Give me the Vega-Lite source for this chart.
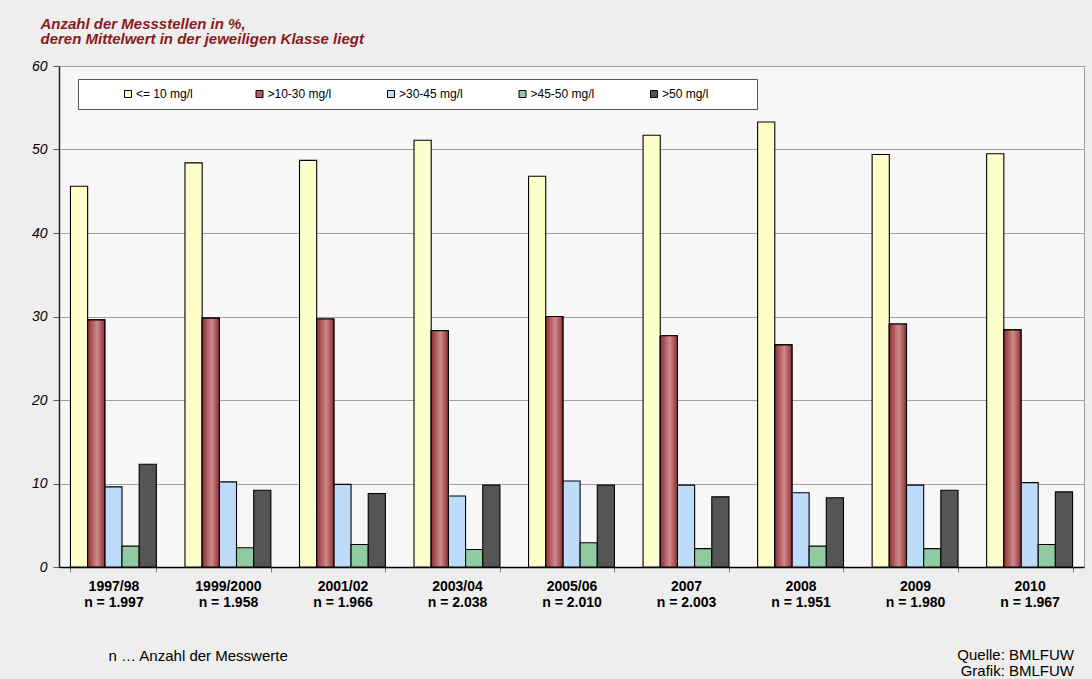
{
  "$schema": "https://vega.github.io/schema/vega-lite/v6.json",
  "width": 1025,
  "height": 501,
  "autosize": "none",
  "padding": {"left": 59, "top": 66, "right": 8, "bottom": 112},
  "background": "#eeeeee",
  "config": {
    "font": "Liberation Sans",
    "view": {"fill": "#f7f7f7", "stroke": "#a0a0a0"}
  },
  "title": {
    "text": ["Quelle: BMLFUW", "Grafik: BMLFUW"],
    "orient": "bottom",
    "anchor": "end",
    "fontSize": 15,
    "fontWeight": "normal",
    "color": "black",
    "lineHeight": 16,
    "dx": -10,
    "dy": -15,
    "offset": 0
  },
  "data": {
    "values": [
      {"period": "1997/98", "n": "1.997", "klasse": "<= 10 mg/l", "wert": 45.6},
      {"period": "1997/98", "n": "1.997", "klasse": ">10-30 mg/l", "wert": 29.6},
      {"period": "1997/98", "n": "1.997", "klasse": ">30-45 mg/l", "wert": 9.6},
      {"period": "1997/98", "n": "1.997", "klasse": ">45-50 mg/l", "wert": 2.5},
      {"period": "1997/98", "n": "1.997", "klasse": ">50 mg/l", "wert": 12.3},
      {"period": "1999/2000", "n": "1.958", "klasse": "<= 10 mg/l", "wert": 48.4},
      {"period": "1999/2000", "n": "1.958", "klasse": ">10-30 mg/l", "wert": 29.8},
      {"period": "1999/2000", "n": "1.958", "klasse": ">30-45 mg/l", "wert": 10.2},
      {"period": "1999/2000", "n": "1.958", "klasse": ">45-50 mg/l", "wert": 2.3},
      {"period": "1999/2000", "n": "1.958", "klasse": ">50 mg/l", "wert": 9.2},
      {"period": "2001/02", "n": "1.966", "klasse": "<= 10 mg/l", "wert": 48.7},
      {"period": "2001/02", "n": "1.966", "klasse": ">10-30 mg/l", "wert": 29.7},
      {"period": "2001/02", "n": "1.966", "klasse": ">30-45 mg/l", "wert": 9.9},
      {"period": "2001/02", "n": "1.966", "klasse": ">45-50 mg/l", "wert": 2.7},
      {"period": "2001/02", "n": "1.966", "klasse": ">50 mg/l", "wert": 8.8},
      {"period": "2003/04", "n": "2.038", "klasse": "<= 10 mg/l", "wert": 51.1},
      {"period": "2003/04", "n": "2.038", "klasse": ">10-30 mg/l", "wert": 28.3},
      {"period": "2003/04", "n": "2.038", "klasse": ">30-45 mg/l", "wert": 8.5},
      {"period": "2003/04", "n": "2.038", "klasse": ">45-50 mg/l", "wert": 2.1},
      {"period": "2003/04", "n": "2.038", "klasse": ">50 mg/l", "wert": 9.8},
      {"period": "2005/06", "n": "2.010", "klasse": "<= 10 mg/l", "wert": 46.8},
      {"period": "2005/06", "n": "2.010", "klasse": ">10-30 mg/l", "wert": 30.0},
      {"period": "2005/06", "n": "2.010", "klasse": ">30-45 mg/l", "wert": 10.3},
      {"period": "2005/06", "n": "2.010", "klasse": ">45-50 mg/l", "wert": 2.9},
      {"period": "2005/06", "n": "2.010", "klasse": ">50 mg/l", "wert": 9.8},
      {"period": "2007", "n": "2.003", "klasse": "<= 10 mg/l", "wert": 51.7},
      {"period": "2007", "n": "2.003", "klasse": ">10-30 mg/l", "wert": 27.7},
      {"period": "2007", "n": "2.003", "klasse": ">30-45 mg/l", "wert": 9.8},
      {"period": "2007", "n": "2.003", "klasse": ">45-50 mg/l", "wert": 2.2},
      {"period": "2007", "n": "2.003", "klasse": ">50 mg/l", "wert": 8.4},
      {"period": "2008", "n": "1.951", "klasse": "<= 10 mg/l", "wert": 53.3},
      {"period": "2008", "n": "1.951", "klasse": ">10-30 mg/l", "wert": 26.6},
      {"period": "2008", "n": "1.951", "klasse": ">30-45 mg/l", "wert": 8.9},
      {"period": "2008", "n": "1.951", "klasse": ">45-50 mg/l", "wert": 2.5},
      {"period": "2008", "n": "1.951", "klasse": ">50 mg/l", "wert": 8.3},
      {"period": "2009", "n": "1.980", "klasse": "<= 10 mg/l", "wert": 49.4},
      {"period": "2009", "n": "1.980", "klasse": ">10-30 mg/l", "wert": 29.1},
      {"period": "2009", "n": "1.980", "klasse": ">30-45 mg/l", "wert": 9.8},
      {"period": "2009", "n": "1.980", "klasse": ">45-50 mg/l", "wert": 2.2},
      {"period": "2009", "n": "1.980", "klasse": ">50 mg/l", "wert": 9.2},
      {"period": "2010", "n": "1.967", "klasse": "<= 10 mg/l", "wert": 49.5},
      {"period": "2010", "n": "1.967", "klasse": ">10-30 mg/l", "wert": 28.4},
      {"period": "2010", "n": "1.967", "klasse": ">30-45 mg/l", "wert": 10.1},
      {"period": "2010", "n": "1.967", "klasse": ">45-50 mg/l", "wert": 2.7},
      {"period": "2010", "n": "1.967", "klasse": ">50 mg/l", "wert": 9.0}
    ]
  },
  "transform": [{"calculate": "datum.period + '|n = ' + datum.n", "as": "label"}],
  "encoding": {
    "x": {
      "field": "label",
      "type": "nominal",
      "sort": null,
      "scale": {"paddingInner": 0.25, "paddingOuter": 0.1},
      "axis": {
        "labelExpr": "isValid(datum.value) ? split(datum.value, '|') : ''",
        "labelAngle": 0,
        "labelFontWeight": "bold",
        "labelFontSize": 14,
        "labelColor": "black",
        "labelPadding": 7,
        "labelLineHeight": 16,
        "domainColor": "black",
        "domainWidth": 1.5,
        "tickBand": "extent",
        "tickColor": "#777777",
        "tickSize": 5,
        "title": "n … Anzahl der Messwerte",
        "titleFontWeight": "normal",
        "titleFontSize": 15,
        "titleColor": "black",
        "titleAlign": "left",
        "titleBaseline": "middle",
        "titleX": 49,
        "titleY": 88
      }
    },
    "xOffset": {
      "field": "klasse",
      "type": "nominal",
      "scale": {"domain": ["<= 10 mg/l", ">10-30 mg/l", ">30-45 mg/l", ">45-50 mg/l", ">50 mg/l"], "paddingInner": 0}
    },
    "y": {
      "field": "wert",
      "type": "quantitative",
      "scale": {"domain": [0, 60]},
      "axis": {
        "values": [0, 10, 20, 30, 40, 50, 60],
        "labelFontStyle": "italic",
        "labelFontSize": 14,
        "labelColor": "black",
        "labelPadding": 6,
        "tickSize": 6,
        "tickColor": "#555555",
        "grid": true,
        "gridColor": "#a0a0a0",
        "domainColor": "#222222",
        "domainWidth": 1.5,
        "title": ["Anzahl der Messstellen in %,", "deren Mittelwert in der jeweiligen Klasse liegt"],
        "titleAngle": 0,
        "titleAlign": "left",
        "titleBaseline": "alphabetic",
        "titleX": -19,
        "titleY": -38,
        "titleFontSize": 15,
        "titleFontWeight": "bold",
        "titleFontStyle": "italic",
        "titleColor": "#8b1a1a",
        "titleLineHeight": 15.5
      }
    }
  },
  "layer": [
    {
      "mark": {"type": "bar", "stroke": "black", "strokeWidth": 1.1},
      "encoding": {
        "color": {
          "field": "klasse",
          "type": "nominal",
          "scale": {
            "domain": ["<= 10 mg/l", ">10-30 mg/l", ">30-45 mg/l", ">45-50 mg/l", ">50 mg/l"],
            "range": ["#ffffcc", "#b55a5e", "#bcdcfa", "#8fcaa0", "#555555"]
          },
          "legend": {
            "orient": "none",
            "legendX": 19,
            "legendY": 13,
            "direction": "horizontal",
            "columns": 5,
            "title": " ",
            "titleOrient": "right",
            "titlePadding": 40,
            "fillColor": "white",
            "strokeColor": "#555555",
            "padding": 9,
            "symbolType": "square",
            "symbolSize": 49,
            "symbolStrokeColor": "black",
            "symbolStrokeWidth": 1,
            "symbolOffset": 35,
            "labelFontSize": 12,
            "labelColor": "black",
            "labelOffset": 2,
            "gridAlign": "all",
            "columnPadding": 18.5
          }
        }
      }
    },
    {
      "transform": [{"filter": "datum.klasse === '>10-30 mg/l'"}],
      "mark": {
        "type": "bar",
        "stroke": "black",
        "strokeWidth": 1.1,
        "color": {
          "gradient": "linear",
          "x1": 0, "x2": 1, "y1": 0, "y2": 0,
          "stops": [
            {"offset": 0, "color": "#8c2f33"},
            {"offset": 0.55, "color": "#d08a8c"},
            {"offset": 1, "color": "#8c2f33"}
          ]
        }
      }
    }
  ]
}
